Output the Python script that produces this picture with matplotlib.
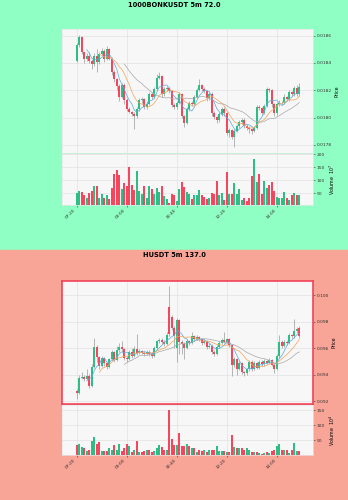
import numpy as np
import pandas as pd
import matplotlib
matplotlib.use("Agg")
import matplotlib.pyplot as plt
from matplotlib.patches import Rectangle
from matplotlib.ticker import MultipleLocator, FormatStrFormatter

# x tick labels (5m candles, one label every 20 bars)
tick_labels = ["07:20", "09:00", "10:40", "12:20", "14:00"]
tick_index = [0, 20, 40, 60, 80]

# ---- 1000BONKUSDT, prices in 1e-6 ----
bonk_open = [18417,18532,18588,18478,18429,18453,18417,18392,18453,18405,
             18466,18490,18429,18502,18430,18330,18280,18230,18150,18240,
             18130,18065,18040,18025,18010,18060,18130,18135,18075,18100,
             18170,18150,18210,18290,18305,18170,18210,18215,18195,18090,
             18075,18110,18170,18010,17960,18060,18110,18100,18150,18205,
             18235,18210,18195,18140,18175,18030,18005,17980,18025,18065,
             18030,17885,17910,17860,17905,17935,17965,17985,17940,17925,
             17915,17905,17925,18080,18070,18035,18085,18210,18200,18100,
             18030,18100,18105,18110,18150,18135,18185,18170,18215,18170]
bonk_close = [18532,18588,18478,18429,18453,18417,18392,18453,18405,18466,
              18490,18429,18502,18430,18330,18280,18230,18150,18240,18130,
              18065,18040,18025,18010,18060,18130,18135,18075,18100,18170,
              18150,18210,18290,18305,18170,18210,18215,18195,18090,18075,
              18110,18170,18010,17960,18060,18110,18100,18150,18205,18235,
              18210,18195,18140,18175,18030,18005,17980,18025,18065,18030,
              17885,17910,17860,17905,17935,17965,17985,17940,17925,17915,
              17905,17925,18080,18070,18035,18085,18210,18200,18100,18030,
              18100,18105,18110,18150,18135,18185,18170,18215,18170,18225]
bonk_high = [18545,18605,18595,18490,18470,18480,18430,18470,18500,18480,
             18510,18500,18525,18510,18440,18345,18290,18245,18255,18250,
             18140,18075,18050,18040,18075,18140,18150,18145,18120,18185,
             18185,18225,18320,18330,18310,18225,18230,18225,18205,18105,
             18125,18185,18180,18020,18075,18125,18120,18165,18220,18285,
             18245,18225,18205,18190,18185,18045,18015,18040,18080,18075,
             18040,17925,17920,17920,17950,17980,18000,17995,17950,17935,
             17925,17940,18095,18090,18080,18100,18225,18220,18210,18110,
             18115,18130,18125,18175,18160,18200,18195,18230,18240,18250]
bonk_low = [18410,18520,18465,18400,18415,18400,18355,18380,18330,18390,
            18450,18410,18420,18420,18310,18260,18200,18120,18140,18100,
            18050,18030,18015,17920,18000,18050,18110,18060,18065,18090,
            18135,18140,18200,18280,18150,18160,18195,18180,18075,18060,
            18065,18100,17995,17930,17950,18050,18085,18090,18140,18195,
            18195,18180,18125,18130,18015,17990,17960,17970,18015,18015,
            17870,17860,17845,17782,17895,17925,17955,17925,17910,17890,
            17880,17895,17915,18055,18020,18025,18075,18185,18080,18015,
            18020,18085,18090,18100,18120,18125,18155,18160,18155,18160]
bonk_vol = [52,60,54,43,30,52,60,79,76,32,
            46,32,43,26,70,125,140,122,67,88,
            76,150,82,62,134,60,46,79,32,79,
            64,48,70,54,79,37,26,13,48,42,
            20,66,93,72,54,48,28,43,41,62,
            43,34,28,30,52,48,97,42,50,22,
            132,48,46,88,46,66,24,30,20,32,
            115,184,92,125,46,97,71,80,95,60,
            36,32,32,54,32,22,41,52,41,41]

# ---- HUSDT, prices in 1e-5 ----
h_open = [9275,9263,9378,9386,9372,9392,9315,9462,9612,9535,
          9470,9525,9490,9462,9518,9570,9512,9585,9606,9595,
          9530,9520,9572,9545,9598,9565,9582,9568,9558,9575,
          9556,9540,9602,9652,9665,9650,9632,9908,9832,9755,
          9605,9812,9650,9630,9605,9655,9640,9690,9670,9685,
          9668,9640,9655,9610,9620,9570,9558,9610,9640,9665,
          9650,9668,9625,9475,9520,9445,9490,9420,9410,9440,
          9500,9445,9490,9455,9500,9478,9505,9490,9510,9475,
          9445,9540,9645,9620,9650,9640,9700,9690,9730,9755]
h_close = [9263,9378,9386,9372,9392,9315,9462,9612,9535,9470,
           9525,9490,9462,9518,9570,9512,9585,9606,9595,9530,
           9520,9572,9545,9598,9565,9582,9568,9558,9575,9556,
           9540,9602,9652,9665,9650,9632,9702,9705,9755,9690,
           9812,9650,9630,9605,9655,9640,9690,9670,9685,9668,
           9640,9655,9610,9620,9570,9558,9610,9640,9665,9650,
           9668,9625,9475,9520,9445,9490,9420,9410,9440,9500,
           9445,9490,9455,9500,9478,9505,9490,9510,9475,9445,
           9540,9645,9620,9650,9640,9700,9690,9730,9745,9695]
h_high = [9290,9395,9420,9400,9440,9405,9480,9680,9625,9545,
          9540,9535,9500,9530,9590,9580,9615,9640,9655,9605,
          9545,9590,9600,9615,9705,9595,9590,9580,9590,9585,
          9570,9615,9665,9680,9680,9660,9720,10067,9850,9770,
          9830,9820,9665,9645,9670,9665,9720,9700,9700,9695,
          9680,9670,9665,9640,9630,9585,9625,9655,9680,9720,
          9680,9675,9635,9535,9530,9505,9500,9430,9455,9515,
          9510,9505,9500,9515,9510,9520,9515,9525,9520,9490,
          9555,9700,9660,9665,9660,9715,9710,9818,9760,9770]
h_low = [9220,9255,9365,9355,9360,9300,9305,9450,9500,9440,
         9460,9470,9445,9450,9505,9500,9505,9570,9570,9515,
         9495,9510,9530,9535,9550,9555,9555,9545,9550,9545,
         9528,9535,9595,9640,9635,9618,9625,9695,9740,9600,
         9493,9560,9560,9520,9595,9625,9630,9655,9660,9655,
         9625,9630,9595,9600,9555,9545,9550,9600,9630,9640,
         9640,9610,9390,9460,9400,9435,9405,9390,9400,9430,
         9430,9435,9440,9445,9465,9470,9478,9480,9465,9410,
         9435,9530,9605,9610,9625,9630,9675,9680,9715,9680]
h_vol = [35,38,29,24,16,17,47,62,38,44,
         16,16,16,24,20,36,18,37,16,24,
         38,31,13,18,47,12,12,15,18,18,
         13,16,26,34,27,18,18,152,54,35,
         35,75,32,31,40,33,26,24,13,20,
         16,20,13,18,18,18,32,16,16,16,
         13,13,69,29,24,24,24,18,24,18,
         13,13,13,10,7,10,12,10,15,18,
         31,38,20,18,20,10,18,42,16,16]

UP = "#2ebd85"
DOWN = "#f6465d"
MAV_COLORS = ["#5aa9dc", "#f4a259", "#a8a8a8"]
MAVS = [5, 10, 20]


def draw_chart(fig, price_rect, vol_rect, o, h, l, c, v, scale, step, fmt,
               vol_exp, frame=None):
    o = np.array(o) * scale
    h = np.array(h) * scale
    l = np.array(l) * scale
    c = np.array(c) * scale
    v = np.array(v, dtype=float)
    x = np.arange(len(c))
    colors = [UP if cc >= oo else DOWN for oo, cc in zip(o, c)]

    ax = fig.add_axes(price_rect)
    axv = fig.add_axes(vol_rect, sharex=ax)
    for a in (ax, axv):
        a.set_facecolor("#f7f7f7")
        a.grid(True, color="#e2e2e2", lw=0.5)
        a.set_axisbelow(True)
        a.yaxis.tick_right()
        a.yaxis.set_label_position("right")
        a.tick_params(labelsize=3.2, length=1.5, width=0.4, pad=1,
                      colors="#333333")
        for s in a.spines.values():
            s.set_color("#e6e6e6")
            s.set_linewidth(0.5)

    # wicks + bodies
    ax.vlines(x, l, h, color="#9a9a9a", lw=0.5, zorder=2)
    body = np.maximum(np.abs(c - o), (h.max() - l.min()) * 0.004)
    ax.bar(x, body, bottom=np.minimum(o, c), width=0.7, color=colors,
           zorder=3, lw=0)

    # moving averages
    cs = pd.Series(c)
    for m, col in zip(MAVS, MAV_COLORS):
        ax.plot(x, cs.rolling(m).mean(), color=col, lw=0.5, zorder=4)

    ypad = 0.05 * (h.max() - l.min())
    ax.set_ylim(l.min() - ypad, h.max() + ypad)
    ax.set_xlim(-5.8, 94.6)
    ax.yaxis.set_major_locator(MultipleLocator(step))
    ax.yaxis.set_major_formatter(FormatStrFormatter(fmt))
    ax.set_ylabel("Price", fontsize=3.4, labelpad=2)
    plt.setp(ax.get_xticklabels(), visible=False)
    ax.tick_params(axis="x", length=0)

    axv.bar(x, v, width=0.65, color=colors, lw=0)
    axv.set_ylim(0.3 * v.min(), 1.1 * v.max())
    axv.yaxis.set_major_locator(MultipleLocator(50))
    axv.set_ylabel("Volume  $10^{%d}$" % vol_exp, fontsize=3.4, labelpad=2)
    axv.set_xticks(tick_index)
    axv.set_xticklabels(tick_labels, rotation=45, ha="right")

    if frame:
        for s in ax.spines.values():
            s.set_color(frame)
            s.set_linewidth(1.2)
    return ax, axv


fig = plt.figure(figsize=(3.48, 5.0), dpi=100)
fig.patches.append(Rectangle((0, 0.5), 1, 0.5, transform=fig.transFigure,
                             color="#90ffc4", zorder=-1))
fig.patches.append(Rectangle((0, 0), 1, 0.5, transform=fig.transFigure,
                             color="#f8a496", zorder=-1))

fig.text(0.5, 0.99, "1000BONKUSDT 5m 72.0", ha="center", va="center",
         fontsize=4.8, fontweight="bold")
fig.text(0.5, 0.49, "HUSDT 5m 137.0", ha="center", va="center",
         fontsize=4.8, fontweight="bold")

draw_chart(fig, [0.179, 0.694, 0.7213, 0.2474], [0.179, 0.59, 0.7213, 0.1024],
           bonk_open, bonk_high, bonk_low, bonk_close, bonk_vol,
           1e-6, 0.0002, "%.4f", 7)
draw_chart(fig, [0.179, 0.1914, 0.7213, 0.2472], [0.179, 0.09, 0.7213, 0.1],
           h_open, h_high, h_low, h_close, h_vol,
           1e-5, 0.002, "%.3f", 4, frame="#f0435a")

fig.savefig("out.png", dpi=100)
